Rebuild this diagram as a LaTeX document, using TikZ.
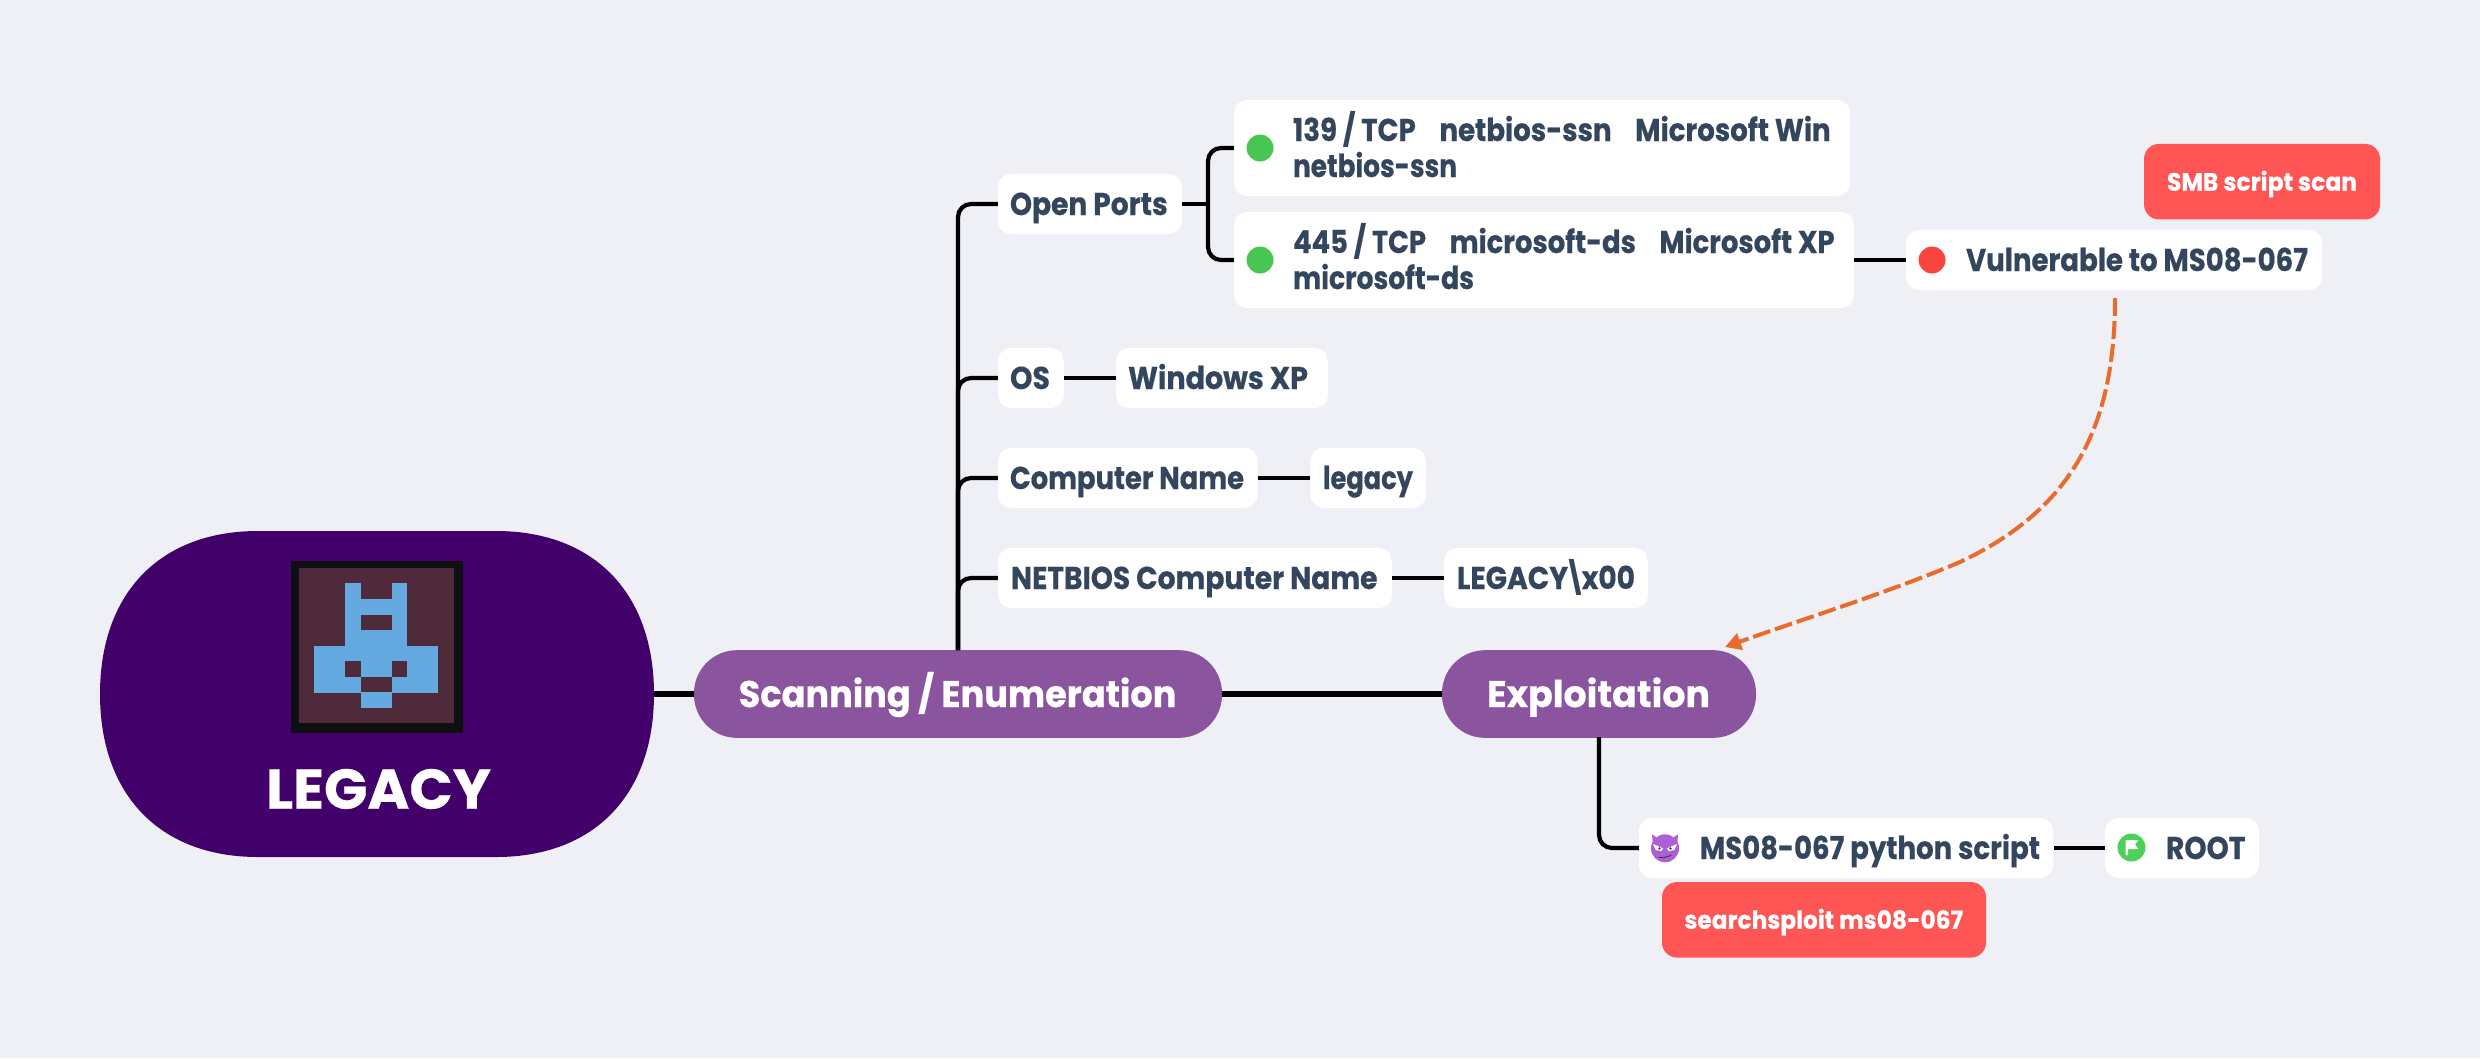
\documentclass[tikz,border=0pt]{standalone}
\usepackage{fontspec}
\usepackage{graphicx}
\setmainfont{Poppins}[BoldFeatures={FakeBold=0.5}]
\usetikzlibrary{arrows.meta}
\definecolor{bgc}{HTML}{EEF0F6}
\definecolor{rootc}{HTML}{42006A}
\definecolor{purplec}{HTML}{8A549E}
\definecolor{inkc}{HTML}{34465E}
\definecolor{redc}{HTML}{FF5555}
\definecolor{orangec}{HTML}{E96B2D}
\definecolor{greenc}{HTML}{47C752}
\definecolor{flagc}{HTML}{4CD25A}
\definecolor{dotred}{HTML}{F9453E}
\definecolor{devilc}{HTML}{AF5FD6}
\definecolor{framec}{HTML}{0D0F11}
\definecolor{tilec}{HTML}{4F2A3B}
\definecolor{bluec}{HTML}{64A9E0}
\newcommand\fitw[2]{\resizebox{#1pt}{\height}{#2}}
\newcommand\ct[4]{\makebox[#1pt][l]{\hspace*{#2pt}\fitw{#3}{#4}}}
\newcommand\twol[2]{\vbox{\baselineskip=36pt\hbox{\rule{0pt}{22pt}\smash{#1}}\hbox{\rule{0pt}{22pt}\smash{#2}}}}
\newcommand\px[2]{\fill[bluec] (298.6+15.5*#1,567.7+15.57*#2) rectangle ++(15.5*1.02,15.57*1.02);}
\tikzset{
  x=1pt,y=-1pt,
  card/.style={fill=white,rounded corners=13pt,inner sep=0pt,minimum height=60pt,text=inkc,
    font=\fontsize{31.5}{36}\selectfont\bfseries,text height=22pt,text depth=0pt},
  tallcard/.style={fill=white,rounded corners=13pt,inner sep=0pt,minimum height=96pt,text=inkc,
    font=\fontsize{31.5}{36}\selectfont\bfseries},
  tag/.style={fill=redc,rounded corners=15pt,inner sep=0pt,text=white,
    font=\fontsize{25}{30}\selectfont\bfseries,text height=18pt,text depth=0pt},
  pill/.style={fill=purplec,rounded corners=43pt,inner sep=0pt,minimum height=87.7pt,text=white,
    font=\fontsize{37}{44}\selectfont\bfseries,text height=26pt,text depth=0pt},
  dot/.style={circle,inner sep=0pt,minimum size=27pt},
  mainline/.style={line width=6pt,black},
  branch/.style={line width=4.2pt,black,rounded corners=13pt},
  rel/.style={line width=4pt,orangec,dash pattern=on 18pt off 5pt,-{Triangle[length=16pt,width=17pt]}},
}
\begin{document}
\begin{tikzpicture}
\useasboundingbox (0,0) rectangle (2480,1058);
\fill[bgc] (0,0) rectangle (2480,1058);
% root
\node[inner sep=0pt,minimum width=554pt,minimum height=326pt] (root) at (377,694) {};
\fill[rootc] (258,531) -- (496,531)
  .. controls (594,531) and (654,593) .. (654,694)
  .. controls (654,795) and (594,857) .. (496,857)
  -- (258,857)
  .. controls (160,857) and (100,795) .. (100,694)
  .. controls (100,593) and (160,531) .. (258,531) -- cycle;
% icon
\fill[framec] (291,561) rectangle (463,733);
\fill[tilec] (298.6,567.7) rectangle (453.6,723.4);
\foreach \c/\r in {3/1,6/1,3/2,4/2,5/2,6/2,3/3,6/3,3/4,4/4,5/4,6/4,
  1/5,2/5,3/5,4/5,5/5,6/5,7/5,8/5,1/6,2/6,4/6,5/6,7/6,8/6,
  1/7,2/7,3/7,6/7,7/7,8/7,4/8,5/8}{\px{\c}{\r}}
\node[inner sep=0pt,text=white,font=\fontsize{56}{60}\selectfont\bfseries,anchor=base] (legacy) at (378.5,808.7) {\fitw{225}{LEGACY}};
% pills
\node[pill,minimum width=528pt] (scan) at (958,694) {\ct{528}{44.7}{437.7}{Scanning / Enumeration}};
\node[pill,minimum width=314pt] (explo) at (1599,694) {\ct{314}{45}{223}{Exploitation}};
% cards
\node[card,minimum width=184pt] (openports) at (1090,204) {\ct{184}{12}{157.7}{Open Ports}};
\node[card,minimum width=66pt] (os) at (1031,378) {\ct{66}{12}{40}{OS}};
\node[card,minimum width=212pt] (winxp) at (1222,378) {\ct{212}{12}{180}{Windows XP}};
\node[card,minimum width=259.6pt] (compname) at (1127.8,478) {\ct{259.6}{12}{234}{Computer Name}};
\node[card,minimum width=115.5pt] (legacyval) at (1368.2,478) {\ct{115.5}{12.5}{90}{legacy}};
\node[card,minimum width=394pt] (netbios) at (1195,578) {\ct{394}{13}{366.5}{NETBIOS Computer Name}};
\node[card,minimum width=204pt] (netval) at (1546,578) {\ct{204}{13}{178}{LEGACY\kern-5pt\textbackslash\kern-5pt x00}};
\node[tallcard,minimum width=616pt] (ptop) at (1542,148) {\makebox[616pt][l]{\hspace*{59pt}\twol{\fitw{537.6}{139 / TCP\hspace{27pt}netbios-ssn\hspace{27pt}Microsoft Win}}{\fitw{164}{netbios-ssn}}}};
\node[tallcard,minimum width=620pt] (pbot) at (1544,260) {\makebox[620pt][l]{\hspace*{59pt}\twol{\fitw{541.6}{445 / TCP\hspace{27pt}microsoft-ds\hspace{27pt}Microsoft XP}}{\fitw{181}{microsoft-ds}}}};
\node[dot,fill=greenc] (dottop) at (1260,148) {};
\node[dot,fill=greenc] (dotbot) at (1260,260) {};
\node[card,minimum width=416pt] (vuln) at (2114,260) {\ct{416}{60}{342}{Vulnerable to MS08-067}};
\node[dot,fill=dotred] (dotvuln) at (1932,260) {};
\node[tag,minimum width=236pt,minimum height=75.5pt] (smb) at (2262,181.7) {\ct{236}{23}{190}{SMB script scan}};
\node[card,minimum width=414.5pt] (script) at (1846.2,848) {\ct{414.5}{61}{340}{MS08-067 python script}};
\node[card,minimum width=154pt] (rootflag) at (2182,848) {\ct{154}{61}{79.4}{ROOT}};
\node[tag,minimum width=324pt,minimum height=75.5pt] (sploit) at (1824,919.8) {\ct{324}{22.4}{278.6}{searchsploit ms08-067}};
% devil icon
\fill[devilc] (1652,834.3) -- (1658,838.5) -- (1652.6,842) -- cycle;
\fill[devilc] (1678,834.3) -- (1672,838.5) -- (1677.4,842) -- cycle;
\node[dot,fill=devilc,minimum size=28pt] (devil) at (1665,848.3) {};
\fill[white] (1653,844) -- (1663,848.3) -- (1661.3,851) -- (1655.7,850) -- cycle;
\fill[white] (1677,844) -- (1667,848.3) -- (1668.7,851) -- (1674.3,850) -- cycle;
\fill[black!70] (1659.5,848.5) circle (1.3pt) (1670.5,848.5) circle (1.3pt);
\draw[line width=1.1pt,black!75] (1658.7,857.3) .. controls (1663,858) and (1668,857) .. (1671.3,855);
% flag icon
\node[dot,fill=flagc,minimum size=28pt] (flag) at (2131.5,847.5) {};
\fill[white] (2125.7,840) -- (2138.3,840) -- (2135,844.5) -- (2138.3,849) -- (2128,849) -- (2128,855) -- (2125.7,855) -- cycle;
% connectors
\coordinate (trunk) at (958,650);
\coordinate (portfork) at (1208,204);
\coordinate (exfork) at (1599,737);
\coordinate (relstart) at (2115,298);
\coordinate (relmid) at (1960,562);
\coordinate (relend) at (1725,647);
\draw[mainline] (root.east) -- (scan.west);
\draw[mainline] (scan.east) -- (explo.west);
\draw[branch] (trunk) |- (openports.west);
\draw[branch] (trunk) |- (os.west);
\draw[branch] (trunk) |- (compname.west);
\draw[branch] (trunk) |- (netbios.west);
\draw[branch] (openports.east) -- (portfork);
\draw[branch] (portfork) |- (ptop.west);
\draw[branch] (portfork) |- (pbot.west);
\draw[branch] (os.east) -- (winxp.west);
\draw[branch] (compname.east) -- (legacyval.west);
\draw[branch] (netbios.east) -- (netval.west);
\draw[branch] (pbot.east) -- (vuln.west);
\draw[branch] (exfork) |- (script.west);
\draw[branch] (script.east) -- (rootflag.west);
\draw[rel] (relstart) .. controls (2115,430) and (2070,510) .. (relmid)
  .. controls (1890,592) and (1800,620) .. (relend);
\end{tikzpicture}
\end{document}
